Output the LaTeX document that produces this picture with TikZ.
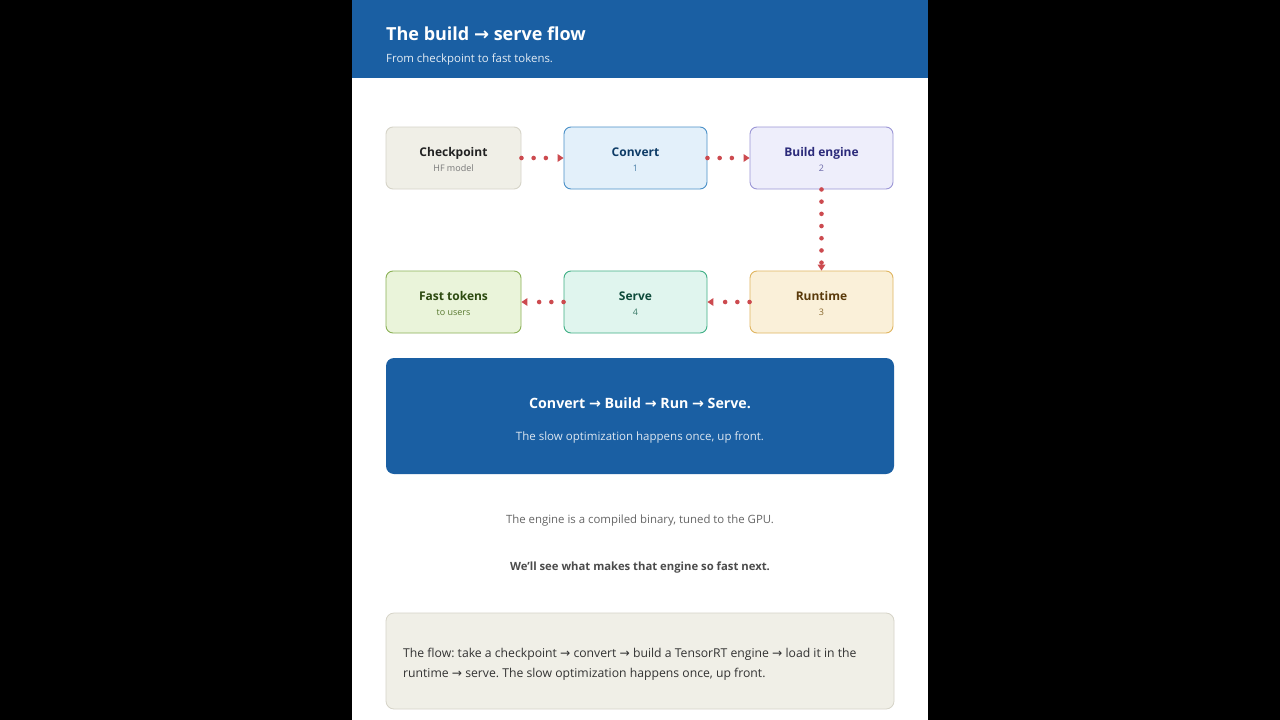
\documentclass[tikz,border=0pt]{standalone}
\usepackage{fontspec}
\setmainfont{Open Sans}
\newfontfamily\arrfont{DejaVu Sans}
\usetikzlibrary{arrows.meta}
\newcommand\rar{{\arrfont\char"2192}}
\frenchspacing
\definecolor{hdr}{HTML}{1A5FA3}
\definecolor{flowred}{HTML}{CC4A4F}
\definecolor{ckfill}{HTML}{F0EFE7}\definecolor{ckdraw}{HTML}{D6D4C8}\definecolor{cktext}{HTML}{222222}\definecolor{cksub}{HTML}{777777}
\definecolor{cvfill}{HTML}{E3F0FA}\definecolor{cvdraw}{HTML}{4A90C8}\definecolor{cvtext}{HTML}{0D3B66}\definecolor{cvsub}{HTML}{4A7FA8}
\definecolor{befill}{HTML}{EEEEFB}\definecolor{bedraw}{HTML}{9B96D6}\definecolor{betext}{HTML}{2B2A7A}\definecolor{besub}{HTML}{6B68A8}
\definecolor{rtfill}{HTML}{FAF0D9}\definecolor{rtdraw}{HTML}{E0B560}\definecolor{rttext}{HTML}{5A3A0A}\definecolor{rtsub}{HTML}{8A6A30}
\definecolor{svfill}{HTML}{E0F5EE}\definecolor{svdraw}{HTML}{3FAF85}\definecolor{svtext}{HTML}{0D4A3A}\definecolor{svsub}{HTML}{3A7A68}
\definecolor{ftfill}{HTML}{EAF4DA}\definecolor{ftdraw}{HTML}{8AB055}\definecolor{fttext}{HTML}{2D4A10}\definecolor{ftsub}{HTML}{5A7A30}
\begin{document}
\begin{tikzpicture}[x=1pt,y=-1pt,
  box/.style={draw, rounded corners=7pt, line width=0.9pt, minimum height=62pt, inner sep=0pt},
  boxtitle/.style={anchor=base, inner sep=0pt, font=\bfseries\fontsize{12}{14}\selectfont},
  boxsub/.style={anchor=base, inner sep=0pt, font=\fontsize{9}{11}\selectfont},
  flow/.style={draw=flowred, line width=4.6pt, line cap=round, dash pattern=on 0pt off 12.2pt,
    -{Triangle[length=6pt,width=8pt,line width=0pt]}},
  panel/.style={rounded corners=8pt}]
\useasboundingbox (0,0) rectangle (1280,720);
\fill[black] (0,0) rectangle (1280,720);
\fill[white] (352,0) rectangle (928,720);
\fill[hdr] (352,0) rectangle (928,78);
\node[anchor=base west, text=white, inner sep=0pt, font=\bfseries\fontsize{18}{22}\selectfont] (title) at (386,40) {The build \rar{} serve flow};
\node[anchor=base west, text=white!88!hdr, inner sep=0pt, font=\fontsize{11.4}{14}\selectfont] (subtitle) at (386,62) {From checkpoint to fast tokens.};
% row 1
\node[box, fill=ckfill, draw=ckdraw, minimum width=135pt] (ck) at (453.5,158) {};
\node[boxtitle, text=cktext] (ckt) at (453.5,156.5) {Checkpoint};
\node[boxsub, text=cksub] (cks) at (453.5,171.5) {HF model};
\node[box, fill=cvfill, draw=cvdraw, minimum width=143pt] (cv) at (635.5,158) {};
\node[boxtitle, text=cvtext] (cvt) at (635.5,156.5) {Convert};
\node[boxsub, text=cvsub] (cvs) at (635.5,171.5) {1};
\node[box, fill=befill, draw=bedraw, minimum width=143pt] (be) at (821.5,158) {};
\node[boxtitle, text=betext] (bet) at (821.5,156.5) {Build engine};
\node[boxsub, text=besub] (bes) at (821.5,171.5) {2};
% row 2
\node[box, fill=ftfill, draw=ftdraw, minimum width=135pt] (ft) at (453.5,302) {};
\node[boxtitle, text=fttext] (ftt) at (453.5,300.5) {Fast tokens};
\node[boxsub, text=ftsub] (fts) at (453.5,315.5) {to users};
\node[box, fill=svfill, draw=svdraw, minimum width=143pt] (sv) at (635.5,302) {};
\node[boxtitle, text=svtext] (svt) at (635.5,300.5) {Serve};
\node[boxsub, text=svsub] (svs) at (635.5,315.5) {4};
\node[box, fill=rtfill, draw=rtdraw, minimum width=143pt] (rt) at (821.5,302) {};
\node[boxtitle, text=rttext] (rtt) at (821.5,300.5) {Runtime};
\node[boxsub, text=rtsub] (rts) at (821.5,315.5) {3};
% connectors
\draw[flow] (ck.east) -- (cv.west);
\draw[flow] (cv.east) -- (be.west);
\draw[flow] (be.south) -- (rt.north);
\draw[flow] (rt.west) -- (sv.east);
\draw[flow] (sv.west) -- (ft.east);
% summary
\node[panel, fill=hdr, minimum width=508pt, minimum height=116pt, inner sep=0pt] (sum) at (640,416) {};
\node[text=white, font=\bfseries\fontsize{14.2}{17}\selectfont] (sumt) at (640,403) {Convert \rar{} Build \rar{} Run \rar{} Serve.};
\node[text=white!85!hdr, font=\fontsize{11.5}{14}\selectfont] (sums) at (640,437) {The slow optimization happens once, up front.};
% texts
\node[text=black!60, font=\fontsize{11.4}{14}\selectfont] (note1) at (640,521) {The engine is a compiled binary, tuned to the GPU.};
\node[text=black!70, font=\bfseries\fontsize{11.3}{14}\selectfont] (note2) at (640,568) {We'll see what makes that engine so fast next.};
% bottom
\node[panel, fill=ckfill, draw=ckdraw, line width=0.8pt, minimum width=508pt, minimum height=96pt, inner sep=0pt] (foot) at (640,661) {};
\node[anchor=base west, text=black!80, inner sep=0pt, font=\fontsize{12.2}{20}\selectfont, align=left] (foott) at (403,677) {The flow: take a checkpoint \rar{} convert \rar{} build a TensorRT engine \rar{} load it in the\\runtime \rar{} serve. The slow optimization happens once, up front.};
\end{tikzpicture}
\end{document}
